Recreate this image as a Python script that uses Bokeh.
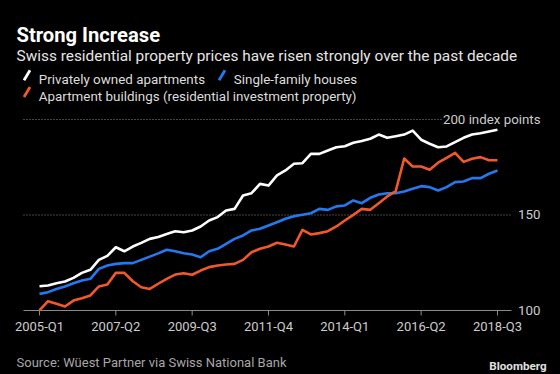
from bokeh.plotting import figure
from bokeh.models import FixedTicker, Label, Arrow, Range1d
from bokeh.layouts import column
from bokeh.embed import file_html
from bokeh.resources import INLINE

# ---------------- data ----------------
quarters = [f"{y}-Q{q}" for y in range(2005, 2019) for q in range(1, 5)][:55]
tick_labels = ["2005-Q1", "2007-Q2", "2009-Q3", "2011-Q4", "2014-Q1", "2016-Q2", "2018-Q3"]

private_apartments = [
    112.7, 113.1, 114.3, 115.2, 117.1, 119.7, 121.3, 126.5, 128.6, 133.1,
    131.0, 133.5, 135.4, 137.5, 138.5, 140.1, 141.5, 141.0, 141.9, 144.0,
    147.1, 148.9, 152.4, 153.2, 160.2, 161.4, 166.3, 165.4, 170.7, 173.3,
    176.8, 177.1, 182.0, 182.0, 183.8, 185.5, 186.0, 187.8, 188.7, 189.9,
    192.1, 190.4, 191.2, 192.1, 194.2, 189.4, 187.3, 185.5, 185.9, 188.2,
    190.4, 192.1, 192.8, 193.7, 194.6,
]
single_family = [
    108.7, 109.6, 111.3, 112.6, 114.3, 115.7, 116.6, 121.8, 123.6, 124.4,
    124.8, 124.8, 126.5, 128.2, 129.9, 131.8, 131.0, 130.0, 129.3, 127.9,
    131.0, 132.3, 134.9, 137.5, 139.3, 141.9, 142.8, 144.5, 146.2, 148.0,
    149.4, 150.1, 150.9, 153.2, 152.7, 154.5, 155.0, 157.6, 156.2, 159.0,
    160.7, 161.4, 161.4, 162.3, 163.7, 165.1, 164.6, 162.8, 164.6, 167.2,
    167.5, 169.3, 169.3, 171.6, 173.3,
]
apartment_buildings = [
    100.0, 104.9, 103.5, 102.1, 105.2, 106.4, 107.9, 112.6, 113.6, 119.7,
    119.7, 115.3, 112.2, 111.3, 114.0, 116.6, 118.8, 119.5, 118.7, 120.9,
    122.7, 123.6, 124.1, 124.4, 126.5, 130.5, 132.3, 133.5, 135.5, 134.6,
    133.5, 142.2, 139.8, 140.5, 141.5, 144.0, 147.1, 150.1, 153.2, 152.7,
    156.2, 159.7, 162.5, 179.6, 175.4, 175.4, 173.7, 177.4, 179.9, 182.5,
    177.8, 179.4, 180.3, 178.7, 178.7,
]

y_ticks = [100, 150, 200]
y_tick_labels = ["100", "150", "200 index points"]
grid_ticks = [150, 200]

series_names = ["Privately owned apartments", "Single-family houses",
                "Apartment buildings (residential investment property)"]
series_colors = ["#ffffff", "#2479f0", "#f2592a"]
series_values = [private_apartments, single_family, apartment_buildings]

title_text = "Strong Increase"
subtitle_text = "Swiss residential property prices have risen strongly over the past decade"
source_text = "Source: Wüest Partner via Swiss National Bank"
brand_text = "Bloomberg"

FONT = "Roboto"
BG = "#000000"
GREY = "#8c8c8c"

# ---------------- main figure ----------------
idx = list(range(len(quarters)))
axis_bounds = (-1.886, 55.65)
PX_PER_UNIT = 1.91          # vertical pixels per index point
TICK_LEN = 5 / PX_PER_UNIT  # 5 px tick marks, in data units

p = figure(width=560, height=352, output_backend="svg", toolbar_location=None,
           title=None,
           x_range=Range1d(-4.598, 61.43), y_range=Range1d(95.81, 262.3),
           y_axis_location=None,
           min_border_left=0, min_border_right=0, min_border_top=0, min_border_bottom=34,
           background_fill_color=BG, border_fill_color=BG,
           outline_line_color=None)

# dotted reference lines at the grid ticks, spanning the axis extent (underlay)
p.segment(x0=[axis_bounds[0]] * len(grid_ticks), x1=[axis_bounds[1]] * len(grid_ticks),
          y0=grid_ticks, y1=grid_ticks,
          line_color=GREY, line_dash="1 2", line_width=1, level="underlay")

# baseline (index 100) and its outward tick marks
tick_idx = [quarters.index(t) for t in tick_labels]
base = y_ticks[0]
p.segment(x0=[axis_bounds[0]], x1=[axis_bounds[1]], y0=[base], y1=[base],
          line_color=GREY, line_width=1)
p.segment(x0=tick_idx, x1=tick_idx, y0=[base] * len(tick_idx),
          y1=[base - TICK_LEN] * len(tick_idx), line_color=GREY, line_width=1)

# draw order: blue, orange, white on top
for k in (1, 2, 0):
    p.line(idx, series_values[k], line_color=series_colors[k], line_width=2.6,
           line_join="round")

# x axis: supplies the quarter labels under the baseline
ax = p.xaxis[0]
ax.ticker = FixedTicker(ticks=tick_idx)
ax.major_label_overrides = {i: t for i, t in zip(tick_idx, tick_labels)}
ax.axis_line_color = None
ax.major_tick_line_color = None
ax.major_tick_in = 0
ax.major_tick_out = 0
ax.minor_tick_line_color = None
ax.major_label_text_color = "#cccccc"
ax.major_label_text_font = FONT
ax.major_label_text_font_size = "13px"
ax.major_label_standoff = 0

p.xgrid.visible = False
p.ygrid.visible = False

# y tick labels (right aligned); they sit under the data lines but above the dotted grid
for v, t in zip(y_ticks, y_tick_labels):
    p.add_layout(Label(x=540, x_units="screen", y=v, y_units="data", text=t,
                       text_align="right", text_baseline="middle",
                       text_color="#cccccc", text_font=FONT, text_font_size="13.3px",
                       background_fill_color=BG, padding=(0, 7), level="underlay"))

# titles
p.add_layout(Label(x=16, y=284, x_units="screen", y_units="screen", text=title_text,
                   text_font=FONT, text_font_style="bold", text_font_size="20.2px",
                   text_color="#ffffff", text_baseline="alphabetic"))
p.add_layout(Label(x=16, y=263, x_units="screen", y_units="screen", text=subtitle_text,
                   text_font=FONT, text_font_size="15.4px",
                   text_color="#e6e6e6", text_baseline="alphabetic"))

# legend (slanted swatches + labels)
legend_pos = [(23.5, 238.7), (218.5, 238.7), (23.5, 222)]
for (lx, ly), name, col in zip(legend_pos, series_names, series_colors):
    p.add_layout(Arrow(end=None, x_start=lx, y_start=ly - 0.5, x_end=lx + 6, y_end=ly + 9.5,
                       start_units="screen", end_units="screen",
                       line_color=col, line_width=2.8))
    p.add_layout(Label(x=lx + 14.8, y=ly, x_units="screen", y_units="screen", text=name,
                       text_font=FONT, text_font_size="13.4px",
                       text_color="#dddddd", text_baseline="alphabetic"))

# ---------------- footer ----------------
f = figure(width=560, height=22, output_backend="svg", toolbar_location=None,
           title=None, x_axis_location=None, y_axis_location=None,
           min_border=0, background_fill_color=BG, border_fill_color=BG,
           outline_line_color=None)
f.xgrid.visible = False
f.ygrid.visible = False
f.add_layout(Label(x=16, y=11.7, x_units="screen", y_units="screen", text=source_text,
                   text_font=FONT, text_font_size="13px",
                   text_color="#a6a6a6", text_baseline="alphabetic"))
f.add_layout(Label(x=546, y=9, x_units="screen", y_units="screen", text=brand_text,
                   text_font=FONT, text_font_size="11.6px", text_font_style="bold",
                   text_color="#e0e0e0", text_align="right", text_baseline="alphabetic"))

layout = column(p, f, spacing=0, background=BG)

html = file_html(layout, INLINE)
html = html.replace("<head>", "<head><style>html,body{background:#000000;}</style>", 1)
open("out.html", "w").write(html)
